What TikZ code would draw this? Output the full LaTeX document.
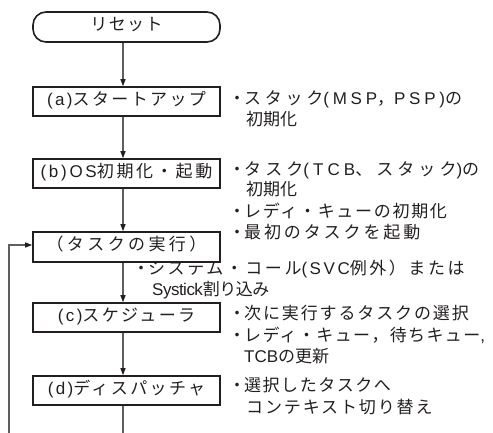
\documentclass[tikz,border=0pt]{standalone}
\usepackage{fontspec}
\setmainfont{Noto Sans CJK JP}
\newfontfamily\latf{Liberation Sans}
\usetikzlibrary{arrows.meta}
\definecolor{ink}{HTML}{231F20}
\definecolor{connc}{HTML}{5F5F5F}
\newcommand\curls{0}
\newcommand\trk[1]{\renewcommand\curls{#1}\addfontfeature{LetterSpace=#1}}
\newcommand\ltn[1]{{\latf\edef\tmpls{\noexpand\addfontfeature{LetterSpace=\curls}}\tmpls #1}}
\newcommand\dt{\makebox[14pt][c]{・}}
\begin{document}
\begin{tikzpicture}[x=1pt,y=-1pt,
  every node/.style={font=\fontsize{17}{20}\selectfont, text=ink, inner sep=0pt},
  box/.style={draw=ink, line width=1.6pt, minimum width=187pt, minimum height=29pt, text height=0.88em, text depth=0.12em},
  ann/.style={anchor=west, text height=0.88em, text depth=0.12em},
  conn/.style={draw=connc, line width=1.2pt},
  arr/.style={conn, -{Triangle[length=7pt,width=5pt,color=ink]}}]
\useasboundingbox (0,0) rectangle (493,433);
\node[box, rounded corners=13pt, minimum height=30pt] (reset) at (126.5,27) {\trk{8}リセット};
\node[box] (a) at (126.5,101.5) {\trk{14}\ltn{(a)}スタートアップ};
\node[box] (b) at (126.5,173.5) {\trk{16}\ltn{(b)OS}初期化・起動};
\node[box, minimum height=30pt] (task) at (126.5,247) {\trk{20}（タスクの実行）};
\node[box] (c) at (126.5,317.5) {\trk{14}\ltn{(c)}スケジューラ};
\node[box] (d) at (126.5,390.5) {\trk{14}\ltn{(d)}ディスパッチャ};
\draw[arr] ([xshift=-3.5pt]reset.south) -- ([xshift=-3.5pt]a.north);
\draw[arr] ([xshift=-3.5pt]a.south) -- ([xshift=-3.5pt]b.north);
\draw[arr] ([xshift=-3.5pt]b.south) -- ([xshift=-3.5pt]task.north);
\draw[arr] ([xshift=-3.5pt]task.south) -- ([xshift=-3.5pt]c.north);
\draw[arr] ([xshift=-3.5pt]c.south) -- ([xshift=-3.5pt]d.north);
\coordinate (dend) at (123,433);
\draw[conn] ([xshift=-3.5pt]d.south) -- (dend);
\coordinate (fb) at (9,433);
\draw[arr] (fb) |- ([yshift=2pt]task.west);
\node[ann] (a1) at (230,101) {\trk{22}\dt スタック\ltn{(MSP}，\ltn{PSP)}の};
\node[ann] (a2) at (246,121.5) {初期化};
\node[ann] (b1) at (230,172) {\trk{24}\dt タスク\ltn{(TCB}、スタック\ltn{)}の};
\node[ann] (b2) at (246,192) {初期化};
\node[ann] (b3) at (230,214) {\trk{10}\dt レディ・キューの初期化};
\node[ann] (b4) at (230,235) {\trk{17}\dt 最初のタスクを起動};
\node[ann] (s1) at (134,270.5) {\trk{15}\dt システム・コール\ltn{(SVC}例外）または};
\node[ann] (s2) at (152,292) {\trk{-3}\ltn{Systick}割り込み};
\node[ann] (c1) at (230,316) {\trk{11}\dt 次に実行するタスクの選択};
\node[ann] (c2) at (230,338) {\trk{8}\dt レディ・キュー，待ちキュー\ltn{,}};
\node[ann] (c3) at (244,359) {\ltn{TCB}の更新};
\node[ann] (d1) at (230,388) {\trk{9}\dt 選択したタスクへ};
\node[ann] (d2) at (246,410) {\trk{11}コンテキスト切り替え};
\end{tikzpicture}
\end{document}
